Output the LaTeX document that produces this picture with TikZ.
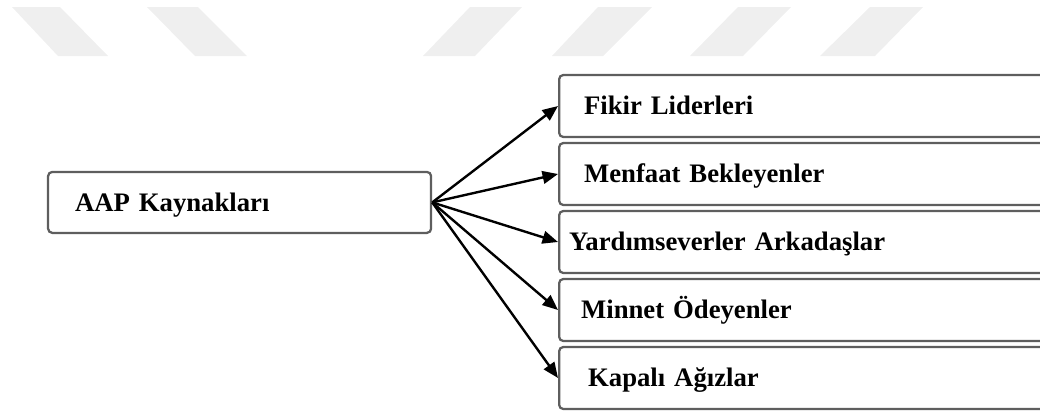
\documentclass[tikz,border=0pt]{standalone}
\usepackage{fontspec}
\setmainfont{Liberation Serif}
\usepackage{tikz}
\usetikzlibrary{arrows.meta,positioning}
\definecolor{wmCol}{HTML}{EFEFEF}
\definecolor{boxEdge}{HTML}{5E5E5E}
\tikzset{
  kbox/.style={draw=boxEdge, fill=white, rounded corners=3pt, line width=1.6pt, align=left,
        font=\fontsize{19}{23}\selectfont\bfseries, text height=17pt, text depth=4.5pt},
  srcbox/.style={kbox, minimum width=9.575cm, minimum height=1.525cm, inner xsep=0.675cm,
        text width=8.225cm},
  dstbox/.style={kbox, anchor=west, minimum height=1.55cm, inner xsep=#1, text width=12cm},
  dstbox/.default=0.625cm,
  flow/.style={-{Triangle[length=11pt, width=9pt]}, line width=1.7pt},
}
\begin{document}
\begin{tikzpicture}
  \useasboundingbox (0,0) rectangle (26,-10.35);
  \clip (0,0) rectangle (26,-10.35);
  % watermark stripes
  \fill[wmCol] (0.3,-0.175) -- (1.5,-0.175) -- (2.7,-1.4) -- (1.45,-1.4) -- cycle;
  \fill[wmCol] (3.675,-0.175) -- (4.95,-0.175) -- (6.175,-1.4) -- (4.875,-1.4) -- cycle;
  \fill[wmCol] (11.75,-0.175) -- (13.05,-0.175) -- (11.875,-1.4) -- (10.575,-1.4) -- cycle;
  \fill[wmCol] (14.95,-0.175) -- (16.3,-0.175) -- (15.075,-1.4) -- (13.8,-1.4) -- cycle;
  \fill[wmCol] (18.45,-0.175) -- (19.775,-0.175) -- (18.575,-1.4) -- (17.25,-1.4) -- cycle;
  \fill[wmCol] (21.75,-0.175) -- (23.075,-0.175) -- (21.875,-1.4) -- (20.5,-1.4) -- cycle;
  % source
  \node[srcbox] (aap) at (5.99,-5.06) {AAP Kaynakları};
  % targets
  \def\rx{13.95}
  \node[dstbox] (fikir)   at (\rx,-2.65) {Fikir Liderleri};
  \node[dstbox] (menfaat) at (\rx,-4.35) {Menfaat Bekleyenler};
  \node[dstbox=0.25cm] (yardim) at (\rx,-6.05) {Yardımseverler Arkadaşlar};
  \node[dstbox=0.55cm] (minnet) at (\rx,-7.75) {Minnet Ödeyenler};
  \node[dstbox=0.725cm] (kapali) at (\rx,-9.45) {Kapalı Ağızlar};
  % arrows
  \draw[flow] (aap.east) -- (fikir.west);
  \draw[flow] (aap.east) -- (menfaat.west);
  \draw[flow] (aap.east) -- (yardim.west);
  \draw[flow] (aap.east) -- (minnet.west);
  \draw[flow] (aap.east) -- (kapali.west);
\end{tikzpicture}
\end{document}
